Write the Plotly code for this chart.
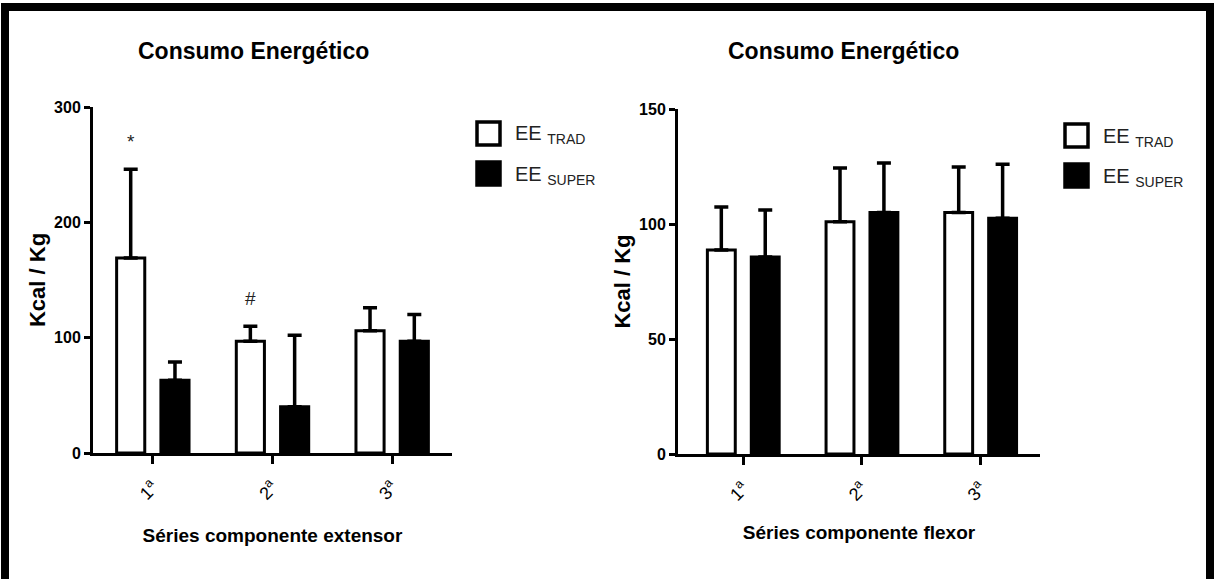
import plotly.graph_objects as go

# ---------------- data ----------------
categories = ["1<sup>a</sup>", "2<sup>a</sup>", "3<sup>a</sup>"]
series_names = ["EE <sub>TRAD</sub>", "EE <sub>SUPER</sub>"]

ext_trad = [169, 97, 106]
ext_trad_sd = [77, 13, 20]
ext_super = [63, 40, 97]
ext_super_sd = [16, 62, 23]
ext_sig = ["*", "#", ""]

flex_trad = [88.7, 101, 105]
flex_trad_sd = [18.7, 23.3, 19.8]
flex_super = [85.7, 105, 102.5]
flex_super_sd = [20.4, 21.5, 23.5]

ext_xtitle = "Séries componente extensor"
flex_xtitle = "Séries componente flexor"
chart_title = "Consumo Energético"
ytitle = "Kcal / Kg"

# ---------------- layout helpers ----------------
W, H = 1216, 579
def px(x):
    return x / W
def py(y):
    return 1 - y / H

FONT = "Liberation Sans, Arial, sans-serif"

xpos = list(range(len(categories)))
bar_w = 0.235
half_gap = 0.185
offsets = [-half_gap - bar_w / 2, half_gap - bar_w / 2]
fills = ["white", "black"]

fig = go.Figure()

def add_bars(vals, sds, idx, xa, ya):
    fig.add_trace(go.Bar(
        x=xpos, y=vals, name=series_names[idx],
        width=bar_w, offset=offsets[idx],
        marker=dict(color=fills[idx], line=dict(color="black", width=3)),
        error_y=dict(type="data", symmetric=False, array=sds,
                     arrayminus=[0] * len(sds), color="black",
                     thickness=3.5, width=7),
        xaxis=xa, yaxis=ya, showlegend=False,
    ))

add_bars(ext_trad, ext_trad_sd, 0, "x", "y")
add_bars(ext_super, ext_super_sd, 1, "x", "y")
add_bars(flex_trad, flex_trad_sd, 0, "x2", "y2")
add_bars(flex_super, flex_super_sd, 1, "x2", "y2")

# significance markers above TRAD extensor bars
annotations = []
for i, s in enumerate(ext_sig):
    if s:
        annotations.append(dict(
            x=xpos[i] + offsets[0] + bar_w / 2, y=ext_trad[i] + ext_trad_sd[i] + 24,
            xref="x", yref="y", text=s, showarrow=False,
            font=dict(family=FONT, size=19, color="#222"),
            xanchor="center", yanchor="middle"))

# chart titles
for cx in (253, 843):
    annotations.append(dict(
        x=px(cx), y=py(51), xref="paper", yref="paper",
        text="<b>" + chart_title + "</b>", showarrow=False,
        font=dict(family=FONT, size=23, color="black"),
        xanchor="center", yanchor="middle"))

# custom legends
shapes = []
legend_specs = [(477, 122, 513), (1065, 124, 1101)]
for bx, by, tx in legend_specs:
    for k in range(2):
        y0 = by + k * 40
        shapes.append(dict(
            type="rect", xref="paper", yref="paper",
            x0=px(bx), x1=px(bx + 23), y0=py(y0), y1=py(y0 + 23),
            line=dict(color="black", width=3.5), fillcolor=fills[k]))
        annotations.append(dict(
            x=px(tx), y=py(y0 + 13), xref="paper", yref="paper",
            text=series_names[k], showarrow=False,
            font=dict(family=FONT, size=20, color="#222"),
            xanchor="left", yanchor="middle"))

# outer border frame
shapes.append(dict(type="rect", xref="paper", yref="paper",
                   x0=px(5), x1=px(1210), y0=py(7), y1=py(H + 20),
                   line=dict(color="black", width=8), fillcolor="rgba(0,0,0,0)"))

axis_common = dict(showline=True, linecolor="black", linewidth=3,
                   showgrid=False, zeroline=False, ticks="outside",
                   tickcolor="black", tickwidth=3)

xtick_font = dict(family=FONT, size=18, color="black")
ytick_font = dict(family=FONT, size=16, color="black", weight="bold")
xtitle_font = dict(family=FONT, size=19, color="black")
ytitle_font = dict(family=FONT, size=22, color="black")

fig.update_layout(
    width=W, height=H,
    margin=dict(l=0, r=0, t=0, b=0),
    paper_bgcolor="white", plot_bgcolor="white",
    barmode="overlay",
    showlegend=False,
    annotations=annotations,
    shapes=shapes,
    xaxis=dict(domain=[px(93), px(452)], anchor="y", range=[-0.5, 2.5],
               tickvals=xpos, ticktext=categories, tickangle=-45, ticklen=8,
               tickfont=xtick_font, ticklabelstandoff=6,
               title=dict(text="<b>" + ext_xtitle + "</b>", standoff=26,
                          font=xtitle_font),
               automargin=False, **axis_common),
    yaxis=dict(domain=[py(453), py(107)], anchor="x", range=[0, 300], dtick=100,
               ticklen=6, tickfont=ytick_font,
               title=dict(text="<b>" + ytitle + "</b>", standoff=3,
                          font=ytitle_font),
               automargin=False, **axis_common),
    xaxis2=dict(domain=[px(678), px(1040)], anchor="y2", range=[-0.55, 2.5],
                tickvals=xpos, ticktext=categories, tickangle=-45, ticklen=8,
                tickfont=xtick_font, ticklabelstandoff=6,
                title=dict(text="<b>" + flex_xtitle + "</b>", standoff=22,
                           font=xtitle_font),
                automargin=False, **axis_common),
    yaxis2=dict(domain=[py(454), py(109)], anchor="x2", range=[0, 150], dtick=50,
                ticklen=6, tickfont=ytick_font,
                title=dict(text="<b>" + ytitle + "</b>", standoff=3,
                           font=ytitle_font),
                automargin=False, **axis_common),
)

fig.write_html("out.html",
               config={"displayModeBar": False},
               post_script="document.body.style.margin='0';document.body.style.padding='0';")
